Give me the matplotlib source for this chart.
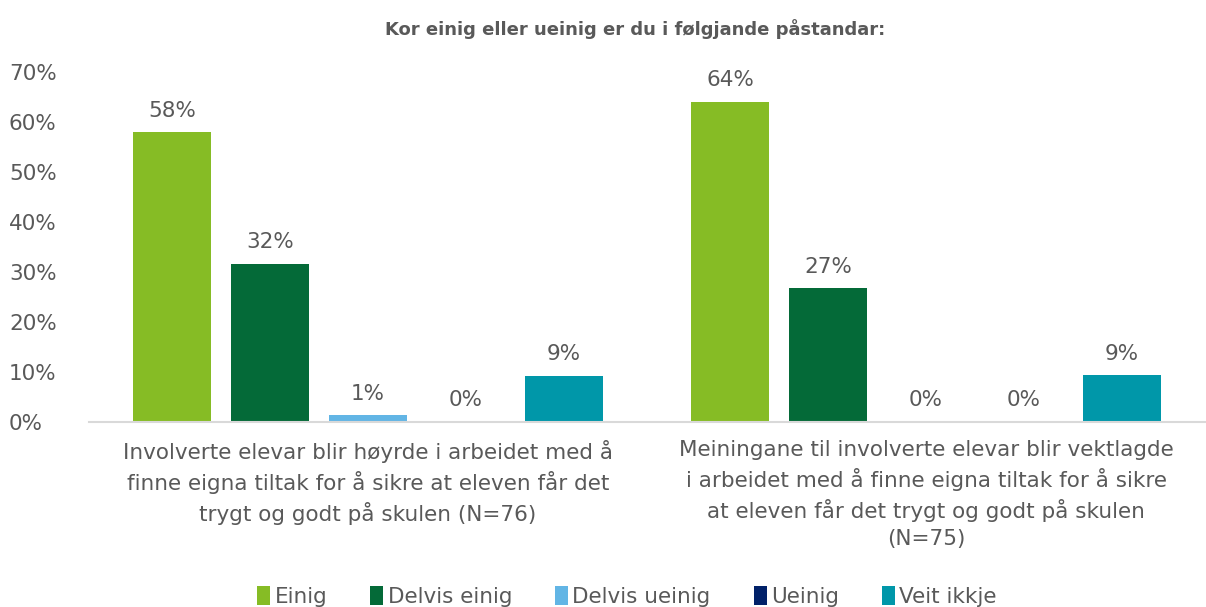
import numpy as np
import matplotlib
matplotlib.use('Agg')
import matplotlib.pyplot as plt

categories = [
    "Involverte elevar blir høyrde i arbeidet med å\nfinne eigna tiltak for å sikre at eleven får det\ntrygt og godt på skulen (N=76)",
    "Meiningane til involverte elevar blir vektlagde\ni arbeidet med å finne eigna tiltak for å sikre\nat eleven får det trygt og godt på skulen\n(N=75)",
]
series = ["Einig", "Delvis einig", "Delvis ueinig", "Ueinig", "Veit ikkje"]
einig = [57.9, 64.0]
delvis_einig = [31.6, 26.7]
delvis_ueinig = [1.3, 0.0]
ueinig = [0.0, 0.0]
veit_ikkje = [9.2, 9.3]
values = [einig, delvis_einig, delvis_ueinig, ueinig, veit_ikkje]
colors = ["#86BC25", "#046A38", "#62B5E5", "#012169", "#0097A9"]
title = "Kor einig eller ueinig er du i følgjande påstandar:"

text_col = "#595959"
fs = 15.5
plt.rcParams['font.family'] = ['DejaVu Sans']

fig = plt.figure(figsize=(12.06, 6.07), dpi=100)
ax = fig.add_axes([0.0738, 0.3048, 0.9254, 0.5766])

x = np.arange(len(categories))
step = 98 / 558
width = 78 / 558
for i, (name, vals, col) in enumerate(zip(series, values, colors)):
    pos = x + (i - 2) * step
    bars = ax.bar(pos, vals, width, color=col, label=name)
    for b, v in zip(bars, vals):
        ax.text(b.get_x() + b.get_width() / 2, v + 2.3, f"{v:.0f}%",
                ha='center', va='bottom', fontsize=fs, color=text_col)

ax.set_xlim(-0.5, 1.5)
ax.set_ylim(0, 70)
ax.set_yticks(np.arange(0, 71, 10))
ax.set_yticklabels([f"{t}%" for t in range(0, 71, 10)])
ax.set_xticks(x)
ax.set_xticklabels(categories, fontsize=fs, color=text_col, linespacing=1.42)
for s in ['top', 'right', 'left']:
    ax.spines[s].set_visible(False)
ax.spines['bottom'].set_color('#D9D9D9')
ax.spines['bottom'].set_linewidth(1.5)
ax.tick_params(axis='y', length=0, labelsize=fs, labelcolor=text_col, pad=0)
ax.tick_params(axis='x', length=0, pad=13)
for lbl in ax.get_yticklabels():
    lbl.set_horizontalalignment('left')
    lbl.set_x(-0.0738 / 0.9254 + 0.008)

fig.text(0.527, 0.953, title, ha='center', va='center', fontsize=13,
         fontweight='bold', color=text_col)

leg = fig.legend(loc='center', bbox_to_anchor=(0.52, 0.018), ncol=5, frameon=False,
                 fontsize=fs, handlelength=0.6, handleheight=1.0, handletextpad=0.2,
                 columnspacing=2.0, labelcolor=text_col)

fig.savefig('out.png', dpi=100)
